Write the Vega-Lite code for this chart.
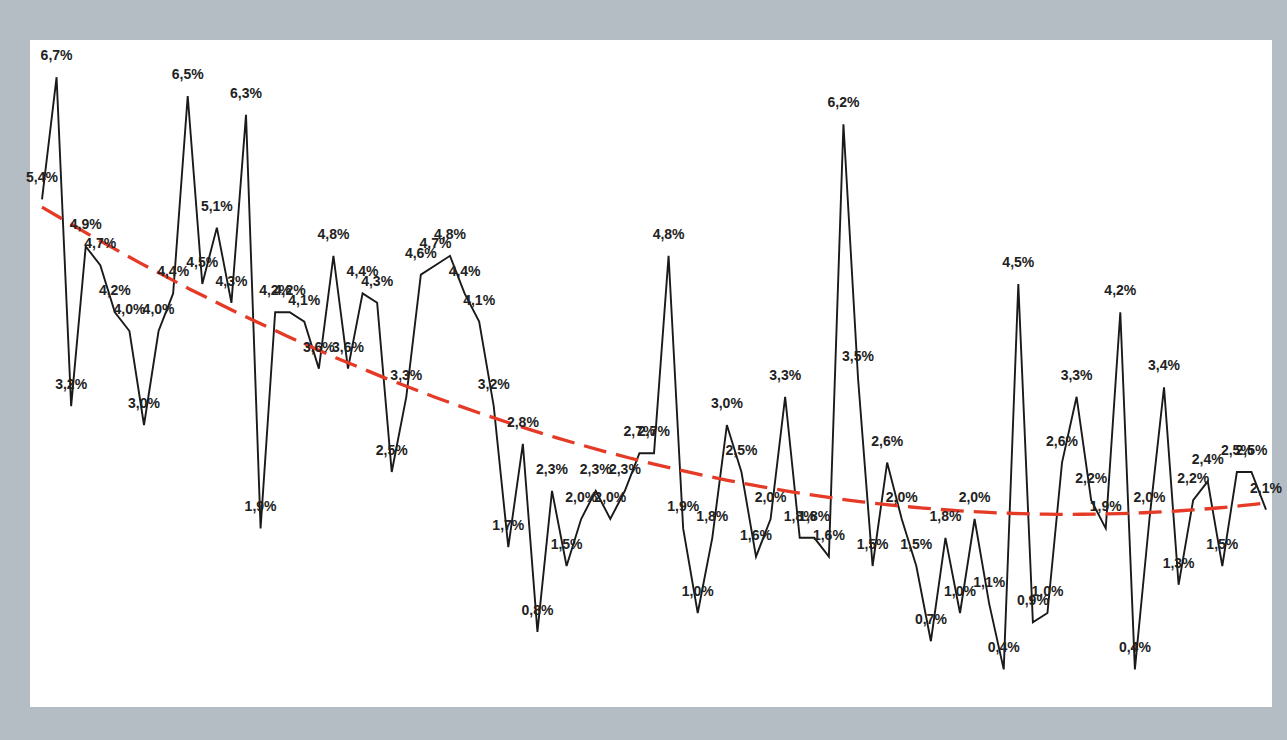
{
  "$schema": "https://vega.github.io/schema/vega-lite/v6.json",
  "width": 1242,
  "height": 667,
  "autosize": {"type": "none"},
  "padding": {"left": 30, "top": 40, "right": 15, "bottom": 33},
  "background": "#b4bcc4",
  "config": {
    "view": {"fill": "white", "stroke": null},
    "locale": {"number": {"decimal": ",", "thousands": ".", "grouping": [3], "currency": ["", " €"]}}
  },
  "data": {"values": [
    {"i": 1, "v": 0.054}, {"i": 2, "v": 0.067}, {"i": 3, "v": 0.032}, {"i": 4, "v": 0.049}, {"i": 5, "v": 0.047},
    {"i": 6, "v": 0.042}, {"i": 7, "v": 0.040}, {"i": 8, "v": 0.030}, {"i": 9, "v": 0.040}, {"i": 10, "v": 0.044},
    {"i": 11, "v": 0.065}, {"i": 12, "v": 0.045}, {"i": 13, "v": 0.051}, {"i": 14, "v": 0.043}, {"i": 15, "v": 0.063},
    {"i": 16, "v": 0.019}, {"i": 17, "v": 0.042}, {"i": 18, "v": 0.042}, {"i": 19, "v": 0.041}, {"i": 20, "v": 0.036},
    {"i": 21, "v": 0.048}, {"i": 22, "v": 0.036}, {"i": 23, "v": 0.044}, {"i": 24, "v": 0.043}, {"i": 25, "v": 0.025},
    {"i": 26, "v": 0.033}, {"i": 27, "v": 0.046}, {"i": 28, "v": 0.047}, {"i": 29, "v": 0.048}, {"i": 30, "v": 0.044},
    {"i": 31, "v": 0.041}, {"i": 32, "v": 0.032}, {"i": 33, "v": 0.017}, {"i": 34, "v": 0.028}, {"i": 35, "v": 0.008},
    {"i": 36, "v": 0.023}, {"i": 37, "v": 0.015}, {"i": 38, "v": 0.020}, {"i": 39, "v": 0.023}, {"i": 40, "v": 0.020},
    {"i": 41, "v": 0.023}, {"i": 42, "v": 0.027}, {"i": 43, "v": 0.027}, {"i": 44, "v": 0.048}, {"i": 45, "v": 0.019},
    {"i": 46, "v": 0.010}, {"i": 47, "v": 0.018}, {"i": 48, "v": 0.030}, {"i": 49, "v": 0.025}, {"i": 50, "v": 0.016},
    {"i": 51, "v": 0.020}, {"i": 52, "v": 0.033}, {"i": 53, "v": 0.018}, {"i": 54, "v": 0.018}, {"i": 55, "v": 0.016},
    {"i": 56, "v": 0.062}, {"i": 57, "v": 0.035}, {"i": 58, "v": 0.015}, {"i": 59, "v": 0.026}, {"i": 60, "v": 0.020},
    {"i": 61, "v": 0.015}, {"i": 62, "v": 0.007}, {"i": 63, "v": 0.018}, {"i": 64, "v": 0.010}, {"i": 65, "v": 0.020},
    {"i": 66, "v": 0.011}, {"i": 67, "v": 0.004}, {"i": 68, "v": 0.045}, {"i": 69, "v": 0.009}, {"i": 70, "v": 0.010},
    {"i": 71, "v": 0.026}, {"i": 72, "v": 0.033}, {"i": 73, "v": 0.022}, {"i": 74, "v": 0.019}, {"i": 75, "v": 0.042},
    {"i": 76, "v": 0.004}, {"i": 77, "v": 0.020}, {"i": 78, "v": 0.034}, {"i": 79, "v": 0.013}, {"i": 80, "v": 0.022},
    {"i": 81, "v": 0.024}, {"i": 82, "v": 0.015}, {"i": 83, "v": 0.025}, {"i": 84, "v": 0.025}, {"i": 85, "v": 0.021}
  ]},
  "encoding": {
    "x": {"field": "i", "type": "quantitative", "scale": {"domain": [0.1765, 85.41], "nice": false, "zero": false}, "axis": null},
    "y": {"field": "v", "type": "quantitative", "scale": {"domain": [0, 0.07096], "nice": false}, "axis": null}
  },
  "layer": [
    {
      "mark": {"type": "line", "color": "#1a1a1a", "strokeWidth": 1.9, "clip": true}
    },
    {
      "transform": [{"regression": "v", "on": "i", "method": "poly", "order": 2}],
      "mark": {"type": "line", "color": "#e53a26", "strokeWidth": 3.3, "strokeDash": [23, 10], "clip": true}
    },
    {
      "mark": {"type": "text", "font": "Liberation Sans", "fontSize": 14, "fontWeight": "bold", "color": "#222222", "baseline": "middle", "align": "center", "dy": -21},
      "encoding": {"text": {"field": "v", "type": "quantitative", "format": ".1%"}}
    }
  ]
}
